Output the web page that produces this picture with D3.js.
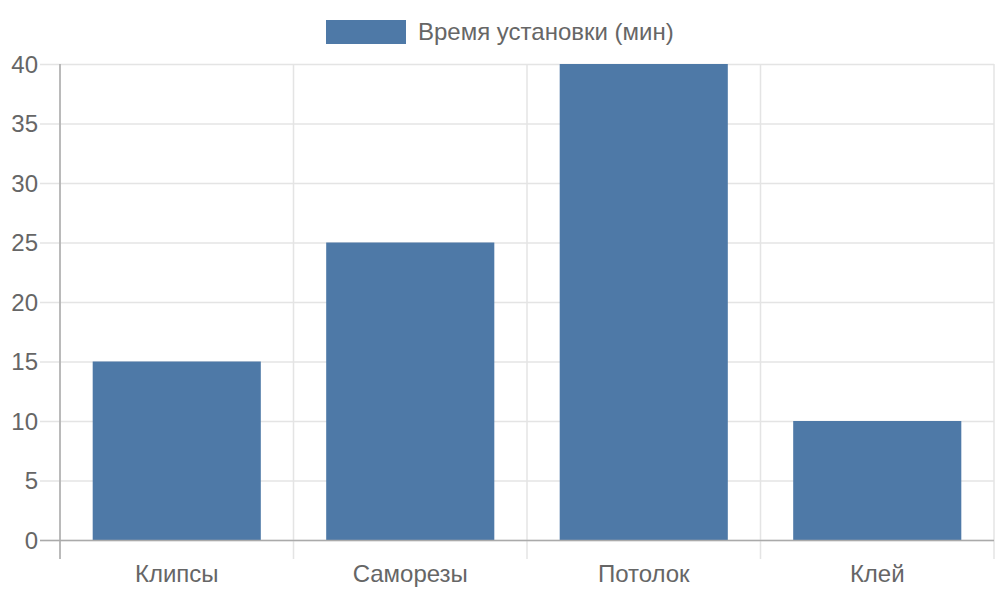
<!DOCTYPE html>
<html><head><meta charset="utf-8">
<script src="https://cdn.jsdelivr.net/npm/d3@7"></script>
<style>body{margin:0;background:#fff}svg{display:block}text{font-family:"Liberation Sans",Arial,sans-serif;fill:#666}</style>
</head><body>
<svg id="c" width="1000" height="600"></svg>
<script>
const categories = ["Клипсы", "Саморезы", "Потолок", "Клей"];
const values = [15, 25, 40, 10];
const seriesName = "Время установки (мин)";
const yTicks = [0, 5, 10, 15, 20, 25, 30, 35, 40];

const svg = d3.select("#c");
const L = 60, R = 994, T = 64, B = 540;
const x = d3.scaleBand().domain(categories).range([L, R]);
const y = d3.scaleLinear().domain([0, 40]).range([B, T]);
const color = "#4e79a7";

svg.append("g").selectAll("line").data(yTicks).join("line")
  .attr("x1", L - 20).attr("x2", R)
  .attr("y1", d => y(d) + 0.5).attr("y2", d => y(d) + 0.5)
  .attr("stroke", "#e4e4e4").attr("stroke-width", 1.5);

const bounds = categories.map(c => x(c)).concat([R]);
svg.append("g").selectAll("line").data(bounds).join("line")
  .attr("x1", d => d).attr("x2", d => d)
  .attr("y1", T).attr("y2", B + 19)
  .attr("stroke", "#e4e4e4").attr("stroke-width", 1.5);

const bw = x.bandwidth() * 0.72;
svg.append("g").selectAll("rect").data(values).join("rect")
  .attr("x", (d, i) => x(categories[i]) + (x.bandwidth() - bw) / 2)
  .attr("width", bw)
  .attr("y", d => y(d))
  .attr("height", d => y(0) - y(d))
  .attr("fill", color);

svg.append("line").attr("x1", L).attr("x2", L).attr("y1", T).attr("y2", B + 19)
  .attr("stroke", "#aaa").attr("stroke-width", 1.5);
svg.append("line").attr("x1", L - 20).attr("x2", R).attr("y1", B + 0.5).attr("y2", B + 0.5)
  .attr("stroke", "#aaa").attr("stroke-width", 1.5);

svg.append("g").selectAll("text").data(yTicks).join("text")
  .attr("x", L - 22).attr("y", d => y(d)).attr("dy", "0.36em")
  .attr("text-anchor", "end").style("font-size", "24px").text(d => d);

svg.append("g").selectAll("text").data(categories).join("text")
  .attr("x", d => x(d) + x.bandwidth() / 2).attr("y", 582)
  .attr("text-anchor", "middle").style("font-size", "24px").text(d => d);

const lg = svg.append("g");
lg.append("rect").attr("x", 326).attr("y", 20).attr("width", 80).attr("height", 24).attr("fill", color);
lg.append("text").attr("x", 418).attr("y", 40).style("font-size", "24px").text(seriesName);
</script>
</body></html>
